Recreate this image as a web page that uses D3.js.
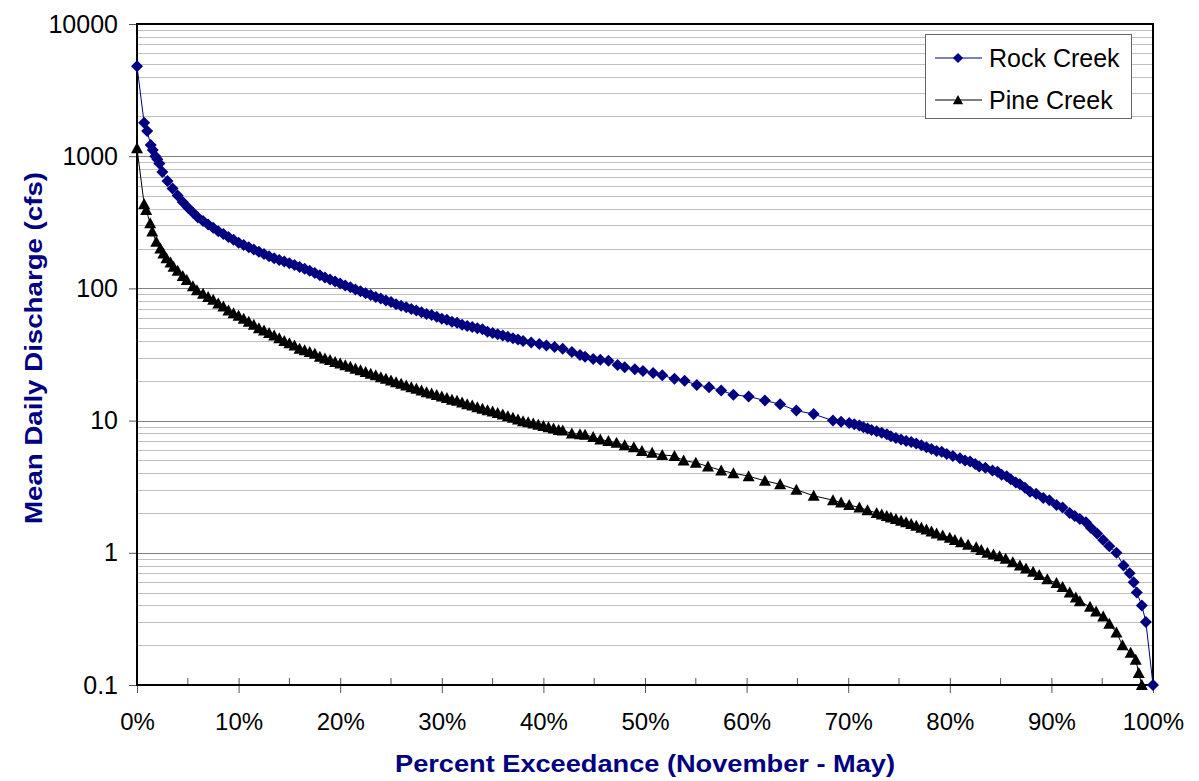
<!DOCTYPE html>
<html>
<head>
<meta charset="utf-8">
<script src="https://cdn.jsdelivr.net/npm/d3@7"></script>
<style>
  body { margin: 0; background: #fff; }
  text { font-family: "Liberation Sans", Arial, sans-serif; }
</style>
</head>
<body>
<div id="chart"></div>
<script>
// Flow duration data (percent exceedance, cfs)
var rockPct = [0, 0.7, 1.0, 1.35, 1.55, 1.8, 2.0, 2.2, 2.5, 3.0, 3.5, 4.0, 4.5, 5.0, 5.5, 6.0, 6.5, 7.0, 7.5, 8.0,
  8.5, 9.0, 9.5, 10, 10.5, 11, 11.5, 12, 12.5, 13, 13.5, 14, 14.5, 15, 15.5, 16, 16.5, 17, 17.5, 18,
  18.5, 19, 19.5, 20, 20.5, 21, 21.5, 22, 22.5, 23, 23.5, 24, 24.5, 25, 25.5, 26, 26.5, 27, 27.5, 28,
  28.5, 29, 29.5, 30, 30.5, 31, 31.5, 32, 32.5, 33, 33.5, 34, 34.5, 35, 35.5, 36, 36.5, 37, 37.5, 38,
  38.8, 39.6, 40.3, 41.1, 41.9, 42.8, 43.6, 44.1, 44.9, 45.6, 46.4, 47.3, 48.0, 49.0, 49.8, 50.8, 51.7, 52.9, 53.9, 55.1,
  56.3, 57.5, 58.7, 60.2, 61.8, 63.3, 64.9, 66.6, 68.5, 69.3, 70.1, 70.6, 71.1, 71.5, 71.9, 72.3, 72.8, 73.3, 73.8, 74.2,
  74.7, 75.2, 75.7, 76.2, 76.7, 77.2, 77.7, 78.2, 78.7, 79.2, 79.7, 80.3, 81.0, 81.5, 82.0, 82.5, 82.9, 83.5, 84.2, 84.7,
  85.1, 85.6, 86.0, 86.5, 86.9, 87.4, 87.9, 88.5, 89.2, 89.8, 90.5, 91.1, 91.8, 92.3, 92.8, 93.4, 93.9, 94.5, 95.1, 95.7,
  96.4, 97.1, 97.7, 98.1, 98.4, 98.9, 99.3, 100];
var rockCfs = [4800, 1790, 1550, 1215, 1115, 1000, 950, 880, 760, 650, 570, 505, 450, 410, 375, 344, 324, 305, 287, 271,
  258, 245, 233, 221, 213, 205, 197, 189, 182, 175, 169, 164, 160, 155, 150, 145, 141, 136, 131, 126,
  121, 117, 113, 109, 105, 102, 98, 95, 92, 89, 86, 84, 81, 79, 76, 74, 72, 70, 68, 66,
  64, 63, 61, 59, 58, 56, 55, 53, 52, 51, 50, 49, 47, 46, 45, 44, 43, 42, 41, 40,
  39, 38, 37, 36, 35, 33, 31.3, 30.4, 29.2, 28.8, 28.4, 26.3, 25.3, 24.5, 23.7, 22.9, 22, 20.7, 20, 18.6,
  17.9, 16.9, 15.7, 15.2, 14.2, 13.3, 11.9, 11.2, 10, 9.8, 9.6, 9.4, 9.2, 8.9, 8.7, 8.5, 8.3, 8.1, 7.9, 7.6,
  7.4, 7.2, 7.0, 6.9, 6.7, 6.5, 6.3, 6.1, 5.9, 5.8, 5.6, 5.4, 5.2, 5.0, 4.9, 4.7, 4.5, 4.4, 4.2, 4.1,
  3.9, 3.8, 3.6, 3.4, 3.3, 3.1, 2.9, 2.8, 2.6, 2.5, 2.3, 2.2, 2.0, 1.9, 1.8, 1.7, 1.54, 1.4, 1.25, 1.12,
  1.0, 0.8, 0.7, 0.6, 0.5, 0.4, 0.3, 0.1];

var pinePct = [0, 0.7, 0.9, 1.3, 1.5, 1.9, 2.3, 2.6, 2.9, 3.3, 3.6, 4.0, 4.5, 4.9, 5.5, 5.9, 6.5, 7.0, 7.5, 8.0,
  8.5, 9.0, 9.5, 10, 10.5, 11, 11.5, 12, 12.5, 13, 13.5, 14, 14.5, 15, 15.5, 16, 16.5, 17, 17.5, 18,
  18.5, 19, 19.5, 20, 20.5, 21, 21.5, 22, 22.5, 23, 23.5, 24, 24.5, 25, 25.5, 26, 26.5, 27, 27.5, 28,
  28.5, 29, 29.5, 30, 30.5, 31, 31.5, 32, 32.5, 33, 33.5, 34, 34.5, 35, 35.5, 36, 36.5, 37, 37.5, 38,
  38.5, 39, 39.5, 40, 40.5, 41, 41.5, 41.9, 42.8, 43.6, 44.1, 44.9, 45.6, 46.4, 47.2, 48.0, 48.9, 49.7, 50.7, 51.7,
  52.9, 53.8, 55.0, 56.2, 57.5, 58.7, 60.2, 61.8, 63.3, 64.9, 66.6, 68.5, 69.3, 70.1, 71.1, 71.9, 72.8, 73.3, 73.8, 74.2,
  74.7, 75.2, 75.7, 76.2, 76.7, 77.2, 77.7, 78.2, 78.7, 79.3, 80.0, 80.5, 81.1, 81.8, 82.6, 83.1, 83.7, 84.3, 84.9, 85.5,
  86.2, 86.9, 87.5, 88.2, 88.8, 89.6, 90.5, 91.1, 91.8, 92.4, 92.8, 93.8, 94.4, 95.1, 95.7, 96.4, 97.0, 97.8, 98.3, 98.6,
  98.9];
var pineCfs = [1150, 435, 392, 311, 269, 225, 200, 184, 169, 157, 146, 136, 124, 116, 104, 97, 91, 86, 82, 77,
  73, 68, 65, 62, 59, 56, 53, 50, 48, 46, 44, 42, 40, 38.5, 37, 35, 34, 33, 32, 30.4,
  29.5, 28.7, 27.8, 27, 26.2, 25.5, 24.7, 24, 23.3, 22.6, 22, 21.3, 20.7, 20.1, 19.5, 19, 18.4, 17.9, 17.4, 16.9,
  16.4, 16, 15.6, 15.2, 14.8, 14.4, 14.1, 13.7, 13.3, 13, 12.6, 12.3, 12, 11.7, 11.4, 11.1, 10.8, 10.5, 10.2, 9.9,
  9.7, 9.5, 9.3, 9.1, 8.9, 8.7, 8.5, 8.4, 8.0, 7.9, 7.8, 7.5, 7.2, 7.0, 6.8, 6.5, 6.3, 5.9, 5.7, 5.5,
  5.4, 5.0, 4.8, 4.5, 4.2, 4.0, 3.8, 3.5, 3.3, 3.0, 2.7, 2.5, 2.4, 2.3, 2.2, 2.1, 2.0, 1.95, 1.9, 1.85,
  1.8, 1.75, 1.7, 1.65, 1.6, 1.55, 1.5, 1.45, 1.4, 1.35, 1.3, 1.25, 1.2, 1.15, 1.1, 1.05, 1.0, 0.97, 0.94, 0.9,
  0.85, 0.8, 0.76, 0.72, 0.68, 0.63, 0.59, 0.55, 0.5, 0.46, 0.43, 0.39, 0.36, 0.33, 0.29, 0.25, 0.2, 0.175, 0.155, 0.123,
  0.1];

var yTickValues = [0.1, 1, 10, 100, 1000, 10000];
var xTickValues = [0, 10, 20, 30, 40, 50, 60, 70, 80, 90, 100];
var seriesNames = ["Rock Creek", "Pine Creek"];

// SVG area
var svgWidth = 1199;
var svgHeight = 781;
var plot = { left: 137, right: 1153, top: 24, bottom: 685 };

var svg = d3.select("#chart")
  .append("svg")
  .attr("width", svgWidth)
  .attr("height", svgHeight);

var xScale = d3.scaleLinear().domain([0, 100]).range([plot.left, plot.right]);
var yScale = d3.scaleLog().domain([0.1, 10000]).range([plot.bottom, plot.top]);

// Minor then major gridlines
var minorTicks = yScale.ticks().filter(d => yTickValues.indexOf(d) < 0);
svg.append("g").selectAll("line")
  .data(minorTicks)
  .enter().append("line")
  .attr("x1", plot.left).attr("x2", plot.right)
  .attr("y1", d => Math.round(yScale(d)) + 0.5).attr("y2", d => Math.round(yScale(d)) + 0.5)
  .attr("stroke", "#c0c0c0").attr("stroke-width", 1);

svg.append("g").selectAll("line")
  .data(yTickValues.slice(1, 5))
  .enter().append("line")
  .attr("x1", plot.left).attr("x2", plot.right)
  .attr("y1", d => Math.round(yScale(d)) + 0.5).attr("y2", d => Math.round(yScale(d)) + 0.5)
  .attr("stroke", "#808080").attr("stroke-width", 1);

// Left axis
var leftAxis = d3.axisLeft(yScale)
  .tickValues(yTickValues)
  .tickFormat(d => d < 1 ? "0.1" : String(d))
  .tickSizeInner(8).tickSizeOuter(0).tickPadding(11);
var gy = svg.append("g")
  .attr("transform", `translate(${plot.left}, 0)`)
  .call(leftAxis);
gy.select(".domain").remove();
gy.selectAll("line").attr("stroke", "#555");
gy.selectAll("text").style("font-size", "25px").attr("fill", "#000");

// Bottom axis
var bottomAxis = d3.axisBottom(xScale)
  .tickValues(xTickValues)
  .tickFormat(d => d + "%")
  .tickSizeInner(8).tickSizeOuter(0).tickPadding(20);
var gx = svg.append("g")
  .attr("transform", `translate(0, ${plot.bottom})`)
  .call(bottomAxis);
gx.select(".domain").remove();
gx.selectAll("line").attr("y1", -7).attr("stroke", "#555");
gx.selectAll("text").style("font-size", "24px").attr("fill", "#000");

// Minor x ticks at the 5% marks
svg.append("g").selectAll("line")
  .data(xTickValues.slice(1).map(d => d - 5))
  .enter().append("line")
  .attr("x1", d => xScale(d)).attr("x2", d => xScale(d))
  .attr("y1", plot.bottom - 7).attr("y2", plot.bottom)
  .attr("stroke", "#555");

// Plot frame
svg.append("rect")
  .attr("x", plot.left).attr("y", plot.top)
  .attr("width", plot.right - plot.left).attr("height", plot.bottom - plot.top)
  .attr("fill", "none").attr("stroke", "#000").attr("stroke-width", 2);

// Marker shapes
var diamond = "M0,-6L6,0L0,6L-6,0Z";
var triangle = "M0,-6L6,5L-6,5Z";

var rockData = rockPct.map((p, i) => ({ p: p, v: rockCfs[i] }));
var pineData = pinePct.map((p, i) => ({ p: p, v: pineCfs[i] }));

var drawLine = d3.line()
  .x(d => xScale(d.p))
  .y(d => yScale(d.v));

function drawSeries(data, color, shape) {
  svg.append("path")
    .attr("d", drawLine(data))
    .attr("fill", "none")
    .attr("stroke", color)
    .attr("stroke-width", 1);
  svg.append("g").selectAll("path")
    .data(data)
    .enter().append("path")
    .attr("d", shape)
    .attr("transform", d => `translate(${xScale(d.p)}, ${yScale(d.v)})`)
    .attr("fill", color);
}
drawSeries(rockData, "#000080", diamond);
drawSeries(pineData, "#000000", triangle);

// Legend
var legend = svg.append("g");
legend.append("rect")
  .attr("x", 925.5).attr("y", 34.5).attr("width", 206).attr("height", 84)
  .attr("fill", "#fff").attr("stroke", "#666").attr("stroke-width", 1);
var legendItems = [
  { name: seriesNames[0], color: "#000080", shape: diamond, y: 58 },
  { name: seriesNames[1], color: "#000000", shape: triangle, y: 100 }
];
legendItems.forEach(function(item) {
  legend.append("line")
    .attr("x1", 935).attr("x2", 982)
    .attr("y1", item.y).attr("y2", item.y)
    .attr("stroke", item.color).attr("stroke-width", 1);
  legend.append("path")
    .attr("d", item.shape)
    .attr("transform", `translate(958, ${item.y}) scale(0.85)`)
    .attr("fill", item.color);
  legend.append("text")
    .attr("x", 989).attr("y", item.y + 9)
    .style("font-size", "25px")
    .text(item.name);
});

// Axis titles
svg.append("text")
  .attr("x", (plot.left + plot.right) / 2)
  .attr("y", 772)
  .attr("text-anchor", "middle")
  .attr("textLength", 500)
  .attr("lengthAdjust", "spacingAndGlyphs")
  .style("font-size", "23px")
  .style("font-weight", "bold")
  .attr("fill", "#000080")
  .text("Percent Exceedance (November - May)");

svg.append("text")
  .attr("transform", "rotate(-90)")
  .attr("x", -348)
  .attr("y", 42)
  .attr("text-anchor", "middle")
  .attr("textLength", 352)
  .attr("lengthAdjust", "spacingAndGlyphs")
  .style("font-size", "24px")
  .style("font-weight", "bold")
  .attr("fill", "#000080")
  .text("Mean Daily Discharge (cfs)");
</script>
</body>
</html>
